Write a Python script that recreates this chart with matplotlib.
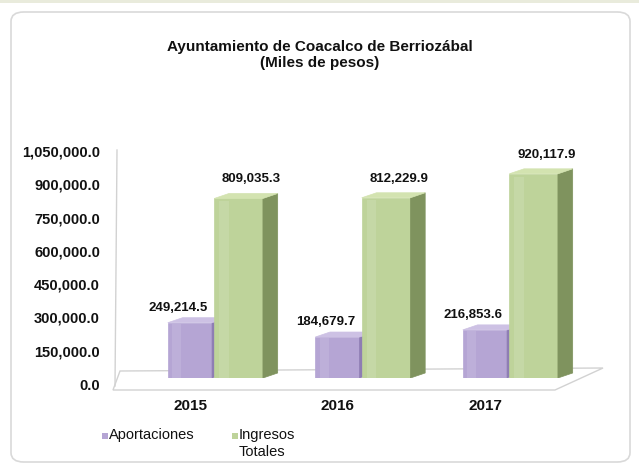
import matplotlib
matplotlib.use("Agg")
import matplotlib.pyplot as plt
import matplotlib.transforms as mtransforms
from matplotlib.patches import Polygon, FancyBboxPatch, Rectangle
from matplotlib.ticker import FixedLocator, FuncFormatter

plt.rcParams['font.family'] = ['Liberation Sans', 'DejaVu Sans']

years = ["2015", "2016", "2017"]
aportaciones = [249214.5, 184679.7, 216853.6]
ingresos = [809035.3, 812229.9, 920117.9]
series_names = ["Aportaciones", "Ingresos\nTotales"]
yticks = [0, 150000, 300000, 450000, 600000, 750000, 900000, 1050000]
title = "Ayuntamiento de Coacalco de Berriozábal\n(Miles de pesos)"

W, H = 639, 465
fig = plt.figure(figsize=(W / 100, H / 100), dpi=100)
fig.patch.set_facecolor("white")

# frame
frame = FancyBboxPatch((11 / W, 3 / H), (630 - 11) / W, (462 - 12) / H,
                       boxstyle="round,pad=0,rounding_size=0.02",
                       transform=fig.transFigure, facecolor="none",
                       edgecolor="#d9d9d9", lw=1.2, zorder=-5)
fig.patches.append(frame)
fig.patches.append(Rectangle((0, 1 - 3 / H), 1, 3 / H, transform=fig.transFigure,
                             facecolor="#e9ebdc", edgecolor="none", zorder=-5))

# axes geometry in pixels
ax_l, ax_r, ax_b, ax_t = 118, 610, 378, 140
ax = fig.add_axes([ax_l / W, (H - ax_b) / H, (ax_r - ax_l) / W, (ax_b - ax_t) / H])
ax.set_facecolor("none")
px_per_unit = 147.5
xmin = -(215 - ax_l) / px_per_unit
xmax = xmin + (ax_r - ax_l) / px_per_unit
data_per_px = 1050000 / 233
ax.set_xlim(xmin, xmax)
ax.set_ylim(0, (ax_b - ax_t) * data_per_px)

def px2d(px, py):
    return xmin + (px - ax_l) / px_per_unit, (ax_b - py) * data_per_px

# floor
floor_px = [(113, 390), (555, 390), (603, 368), (120, 371)]
floor = Polygon([px2d(*p) for p in floor_px], closed=True, facecolor="white",
                edgecolor="#d2d2d2", lw=1.0, clip_on=False, zorder=1)
ax.add_patch(floor)
# wall line
x0, y0 = px2d(117, 150)
x1, y1 = px2d(115, 386)
ax.plot([x0, x1], [y0, y1], color="#d2d2d2", lw=1.0, clip_on=False, zorder=1)

xs = list(range(len(years)))
dx = 0.10
dy = 5 * data_per_px

def bar3d(xc, width, value, front, side, top, z):
    ax.bar([xc], [value], width=width, color=front, edgecolor=front, lw=0.5, zorder=z)
    l, r = xc - width / 2, xc + width / 2
    ax.add_patch(Polygon([(r, 0), (r + dx, dy), (r + dx, value + dy), (r, value)],
                         closed=True, facecolor=side, edgecolor=side, lw=0.5, zorder=z))
    ax.add_patch(Polygon([(l, value), (r, value), (r + dx, value + dy), (l + dx, value + dy)],
                         closed=True, facecolor=top, edgecolor=top, lw=0.5, zorder=z))
    ax.bar([l + width * 0.2], [value * 0.985], width=width * 0.2, color="white",
           alpha=0.12, lw=0, zorder=z + 0.1)

p_front, p_side, p_top = "#b5a5d4", "#8e7db3", "#cdc1e4"
g_front, g_side, g_top = "#bed39a", "#7f935e", "#d3e3b0"

pw, gw = 0.30, 0.33
pc, gc = -0.17, 0.16
for i in xs:
    bar3d(i + pc, pw, aportaciones[i], p_front, p_side, p_top, 2)
    bar3d(i + gc, gw, ingresos[i], g_front, g_side, g_top, 3)
    ax.annotate(f"{aportaciones[i]:,.1f}", (i + pc, aportaciones[i]),
                xytext=(-12, 15), textcoords="offset pixels", ha="center", va="center",
                fontsize=9.5, fontweight="bold", color="#111111", zorder=5)
    ax.annotate(f"{ingresos[i]:,.1f}", (i + gc, ingresos[i]),
                xytext=(13, 19), textcoords="offset pixels", ha="center", va="center",
                fontsize=9.5, fontweight="bold", color="#111111", zorder=5)

for s in ax.spines.values():
    s.set_visible(False)

ax.yaxis.set_major_locator(FixedLocator(yticks))
ax.yaxis.set_major_formatter(FuncFormatter(lambda v, p: f"{v:,.1f}"))
ax.tick_params(axis="y", length=0, pad=13, labelsize=10.5)
ax.set_xticks(xs)
ax.set_xticklabels(years)
ax.tick_params(axis="x", length=0, pad=15, labelsize=11)
for lab in ax.get_yticklabels():
    lab.set_fontweight("bold")
    lab.set_color("#111111")
    lab.set_transform(lab.get_transform() + mtransforms.ScaledTranslation(0, -6 / 100, fig.dpi_scale_trans))
for lab in ax.get_xticklabels():
    lab.set_fontweight("bold")
    lab.set_color("#111111")
    lab.set_transform(lab.get_transform() + mtransforms.ScaledTranslation(-25 / 100, 0, fig.dpi_scale_trans))

fig.text(320 / W, (H - 55) / H, title, ha="center", va="center", fontsize=11,
         fontweight="bold", color="#111111", linespacing=1.15)

# legend (manual, top-aligned like the reference)
leg_items = [(105, p_front, series_names[0]), (235, g_front, series_names[1])]
for px, col, name in leg_items:
    fig.patches.append(Rectangle(((px - 3) / W, (H - 439) / H), 6 / W, 6 / H,
                                 transform=fig.transFigure, facecolor=col, edgecolor="none"))
    fig.text((px + 4) / W, (H - 428) / H, name, ha="left", va="top", fontsize=10.5,
             color="#111111", linespacing=1.3)

fig.savefig("out.png", dpi=100)
